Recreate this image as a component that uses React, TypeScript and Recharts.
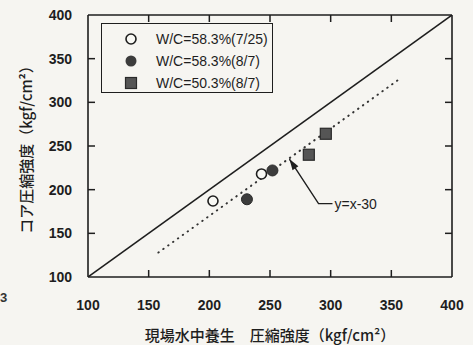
import React from 'react';
import {
  ScatterChart,
  Scatter,
  XAxis,
  YAxis,
  Legend,
} from 'recharts';

const ticks = [100, 150, 200, 250, 300, 350, 400];

const open58_0725 = [
  { x: 203, y: 187 },
  { x: 243, y: 218 },
];
const filled58_0807 = [
  { x: 231, y: 189 },
  { x: 252, y: 222 },
];
const square50_0807 = [
  { x: 282, y: 240 },
  { x: 296, y: 264 },
];

const equalLine = [
  { x: 100, y: 100 },
  { x: 400, y: 400 },
];
const offsetLine = [
  { x: 158, y: 128 },
  { x: 355, y: 325 },
];
const annotation = [
  { x: 266, y: 235, role: 'tip' },
  { x: 290, y: 184, role: 'elbow' },
  { x: 301.5, y: 184, role: 'end' },
];

const seriesNames = ['W/C=58.3%(7/25)', 'W/C=58.3%(8/7)', 'W/C=50.3%(8/7)'];

const INK = '#1e1e1e';
const NUM_FONT = '"Liberation Sans", Arial, sans-serif';
const JP_FONT = '"Noto Sans CJK JP", sans-serif';
const TICK_LEN = 7;

const OpenDot = (props: any) => (
  <circle cx={props.cx} cy={props.cy} r={5} fill="#f8f8f4" stroke={INK} strokeWidth={1.6} />
);
const FilledDot = (props: any) => (
  <circle cx={props.cx} cy={props.cy} r={5.5} fill="#3c3c3c" stroke="#2a2a2a" strokeWidth={1} />
);
const SquareDot = (props: any) => (
  <rect x={props.cx - 5.5} y={props.cy - 5.5} width={11} height={11} fill="#555" stroke="#2a2a2a" strokeWidth={1.2} />
);
const NoDot = () => <g />;

const AnnotShape = (props: any) => {
  const { cx, cy, payload } = props;
  if (payload.role === 'tip') {
    const ux = 0.55;
    const uy = 0.835;
    const bx = cx + ux * 11;
    const by = cy + uy * 11;
    const px = -uy * 3.5;
    const py = ux * 3.5;
    return (
      <polygon
        points={`${cx},${cy} ${bx + px},${by + py} ${bx - px},${by - py}`}
        fill={INK}
      />
    );
  }
  if (payload.role === 'end') {
    return (
      <text x={cx + 2} y={cy + 5} fontSize={14} fontFamily={NUM_FONT} fill={INK}>
        y=x-30
      </text>
    );
  }
  return <g />;
};

// inward ticks: the axis line sits tickMargin away from the label anchor
const LEFT_MARGIN = 16;
const BOTTOM_MARGIN = 22;
const isEnd = (v: number) => v === 100 || v === 400;

const LeftTick = (props: any) => {
  const { x, y, payload } = props;
  const ax = x + LEFT_MARGIN;
  return (
    <g>
      {!isEnd(payload.value) ? (
        <line x1={ax} x2={ax + TICK_LEN} y1={y} y2={y} stroke={INK} strokeWidth={1.5} />
      ) : null}
      <text x={x} y={y} dy={5} textAnchor="end" fontFamily={NUM_FONT} fontSize={14} fontWeight={700} fill={INK}>
        {payload.value}
      </text>
    </g>
  );
};

const BottomTick = (props: any) => {
  const { x, y, payload } = props;
  const ay = y - BOTTOM_MARGIN;
  return (
    <g>
      {!isEnd(payload.value) ? (
        <line x1={x} x2={x} y1={ay} y2={ay - TICK_LEN} stroke={INK} strokeWidth={1.5} />
      ) : null}
      <text x={x} y={y} dy={11} textAnchor="middle" fontFamily={NUM_FONT} fontSize={14} fontWeight={700} fill={INK}>
        {payload.value}
      </text>
    </g>
  );
};

const RightTick = (props: any) => {
  const { x, y, payload } = props;
  if (isEnd(payload.value)) return <g />;
  return <line x1={x} x2={x - TICK_LEN} y1={y} y2={y} stroke={INK} strokeWidth={1.5} />;
};

const TopTick = (props: any) => {
  const { x, y, payload } = props;
  if (isEnd(payload.value)) return <g />;
  return <line x1={x} x2={x} y1={y} y2={y + TICK_LEN} stroke={INK} strokeWidth={1.5} />;
};

const LegendBox = () => {
  const markers = [
    <circle cx={8} cy={8} r={5} fill="#f8f8f4" stroke={INK} strokeWidth={1.6} />,
    <circle cx={8} cy={8} r={5.5} fill="#3c3c3c" />,
    <rect x={2.5} y={2.5} width={11} height={11} fill="#555" stroke="#2a2a2a" strokeWidth={1.2} />,
  ];
  return (
    <div
      style={{
        border: `1.5px solid ${INK}`,
        width: 172,
        height: 70,
        boxSizing: 'border-box',
        padding: '4px 0 0 21px',
        background: '#f6f5f1',
      }}
    >
      {seriesNames.map((name, i) => (
        <div key={name} style={{ display: 'flex', alignItems: 'center', height: 22 }}>
          <svg width={16} height={16} style={{ marginRight: 17 }}>
            {markers[i]}
          </svg>
          <span style={{ fontFamily: NUM_FONT, fontSize: 14, color: INK }}>{name}</span>
        </div>
      ))}
    </div>
  );
};

const YLabel = (props: any) => {
  const vb = props.viewBox;
  const x = vb.x + 25;
  const y = vb.y + vb.height / 2;
  return (
    <text
      x={x}
      y={y}
      transform={`rotate(-90 ${x} ${y})`}
      textAnchor="middle"
      dominantBaseline="central"
      fontFamily={JP_FONT}
      fontSize={15}
      fontWeight={500}
      fill={INK}
    >
      コア圧縮強度（kgf/cm²）
    </text>
  );
};

const axisLineStyle = { stroke: INK, strokeWidth: 1.6 };

export default function App() {
  return (
    <div
      style={{
        position: 'fixed',
        left: 0,
        top: 0,
        width: 473,
        height: 345,
        background: '#f6f5f1',
      }}
    >
      <span
        style={{
          position: 'absolute',
          left: 0,
          top: 290,
          fontFamily: NUM_FONT,
          fontSize: 13,
          fontWeight: 700,
          color: '#333',
        }}
      >
        3
      </span>
      <ScatterChart
        width={473}
        height={345}
        margin={{ top: 14, right: 20, bottom: 0, left: 0 }}
      >
        <XAxis
          xAxisId="bottom"
          type="number"
          dataKey="x"
          domain={[100, 400]}
          ticks={ticks}
          allowDataOverflow
          height={68}
          tickSize={0}
          tickMargin={BOTTOM_MARGIN}
          tick={<BottomTick />}
          axisLine={axisLineStyle}
          tickLine={false}
          label={{
            value: '現場水中養生　圧縮強度（kgf/cm²）',
            position: 'insideBottom',
            offset: 4,
            style: { fontFamily: JP_FONT, fontSize: 15, fontWeight: 500, fill: INK },
          }}
        />
        <XAxis
          xAxisId="top"
          orientation="top"
          type="number"
          dataKey="x"
          domain={[100, 400]}
          ticks={ticks}
          allowDataOverflow
          height={1}
          tickSize={0}
          tickMargin={0}
          tick={<TopTick />}
          axisLine={axisLineStyle}
          tickLine={false}
        />
        <YAxis
          yAxisId="left"
          type="number"
          dataKey="y"
          domain={[100, 400]}
          ticks={ticks}
          allowDataOverflow
          width={88}
          tickSize={0}
          tickMargin={LEFT_MARGIN}
          tick={<LeftTick />}
          axisLine={axisLineStyle}
          tickLine={false}
          label={<YLabel />}
        />
        <YAxis
          yAxisId="right"
          orientation="right"
          type="number"
          dataKey="y"
          domain={[100, 400]}
          ticks={ticks}
          allowDataOverflow
          width={1}
          tickSize={0}
          tickMargin={0}
          tick={<RightTick />}
          axisLine={axisLineStyle}
          tickLine={false}
        />
        <Legend
          layout="horizontal"
          verticalAlign="middle"
          align="center"
          content={<LegendBox />}
          wrapperStyle={{ position: 'absolute', left: 101, top: 23, width: 174, height: 72 }}
        />
        <Scatter
          xAxisId="bottom"
          yAxisId="left"
          data={equalLine}
          line={{ stroke: INK, strokeWidth: 1.5 }}
          shape={NoDot}
          legendType="none"
          isAnimationActive={false}
        />
        <Scatter
          xAxisId="bottom"
          yAxisId="left"
          data={offsetLine}
          line={{ stroke: '#333', strokeWidth: 2, strokeDasharray: '0.5 5.5', strokeLinecap: 'round' }}
          shape={NoDot}
          legendType="none"
          isAnimationActive={false}
        />
        <Scatter
          xAxisId="bottom"
          yAxisId="left"
          data={annotation}
          line={{ stroke: INK, strokeWidth: 1.4 }}
          shape={AnnotShape}
          legendType="none"
          isAnimationActive={false}
        />
        <Scatter
          xAxisId="bottom"
          yAxisId="left"
          name={seriesNames[0]}
          data={open58_0725}
          shape={OpenDot}
          isAnimationActive={false}
        />
        <Scatter
          xAxisId="bottom"
          yAxisId="left"
          name={seriesNames[1]}
          data={filled58_0807}
          shape={FilledDot}
          isAnimationActive={false}
        />
        <Scatter
          xAxisId="bottom"
          yAxisId="left"
          name={seriesNames[2]}
          data={square50_0807}
          shape={SquareDot}
          isAnimationActive={false}
        />
      </ScatterChart>
    </div>
  );
}
